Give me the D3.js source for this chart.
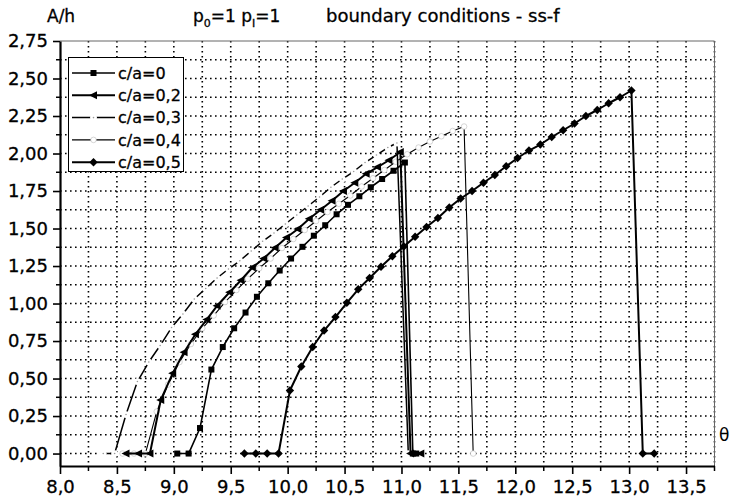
<!DOCTYPE html>
<html>
<head>
<meta charset="utf-8">
<script src="https://cdn.jsdelivr.net/npm/d3@7"></script>
<style>
  html, body { margin: 0; padding: 0; background: #fff; }
  svg { display: block; }
</style>
</head>
<body>
<div id="chart"></div>
<script>
// series names, legend order
const seriesNames = ["c/a=0", "c/a=0,2", "c/a=0,3", "c/a=0,4", "c/a=0,5"];

// c/a = 0 (squares)
const ca0X = [9.03, 9.13, 9.23, 9.33, 9.43, 9.53, 9.63, 9.73, 9.83, 9.93, 10.03, 10.13, 10.23, 10.33, 10.43, 10.53, 10.63, 10.73, 10.83, 10.93, 11.03, 11.10, 11.13];
const ca0Y = [0, 0, 0.17, 0.56, 0.71, 0.835, 0.94, 1.045, 1.135, 1.22, 1.30, 1.378, 1.452, 1.522, 1.595, 1.658, 1.715, 1.775, 1.83, 1.885, 1.94, 0, 0];

// c/a = 0,2 (triangles)
const ca2X = [8.58, 8.69, 8.79, 8.885, 8.99, 9.09, 9.19, 9.29, 9.38, 9.49, 9.59, 9.69, 9.79, 9.89, 9.99, 10.09, 10.19, 10.29, 10.39, 10.49, 10.59, 10.69, 10.79, 10.89, 10.99, 11.08, 11.17];
const ca2Y = [0, 0, 0, 0.357, 0.535, 0.675, 0.795, 0.894, 0.985, 1.075, 1.155, 1.24, 1.30, 1.372, 1.44, 1.497, 1.565, 1.625, 1.685, 1.75, 1.805, 1.865, 1.91, 1.955, 2.01, 0, 0];

// c/a = 0,3 (small open points)
const ca3X = [8.38, 8.48, 8.58, 8.68, 8.78, 8.88, 8.98, 9.08, 9.18, 9.28, 9.38, 9.48, 9.58, 9.68, 9.78, 9.88, 9.98, 10.08, 10.18, 10.28, 10.38, 10.48, 10.58, 10.68, 10.78, 10.88, 10.96, 11.06];
const ca3Y = [0, 0, 0.26, 0.48, 0.61, 0.72, 0.84, 0.93, 1.03, 1.10, 1.17, 1.23, 1.285, 1.35, 1.415, 1.47, 1.53, 1.59, 1.65, 1.71, 1.775, 1.83, 1.88, 1.94, 1.99, 2.04, 2.07, 0];

// c/a = 0,4 (open circles)
const ca4X = [8.55, 8.65, 8.75, 8.85, 8.95, 9.05, 9.15, 9.25, 9.35, 9.45, 9.55, 9.65, 9.75, 9.85, 9.95, 10.05, 10.15, 10.25, 10.35, 10.45, 10.55, 10.65, 10.75, 10.85, 10.95, 11.05, 11.15, 11.25, 11.35, 11.45, 11.55, 11.63];
const ca4Y = [0, 0, 0, 0.28, 0.46, 0.61, 0.73, 0.835, 0.92, 1.01, 1.09, 1.165, 1.235, 1.30, 1.37, 1.43, 1.49, 1.55, 1.61, 1.665, 1.72, 1.78, 1.835, 1.89, 1.945, 1.995, 2.04, 2.08, 2.115, 2.15, 2.18, 0];

// c/a = 0,5 (diamonds)
const ca5X = [9.62, 9.72, 9.82, 9.92, 10.02, 10.12, 10.22, 10.32, 10.42, 10.52, 10.62, 10.72, 10.82, 10.92, 11.02, 11.12, 11.22, 11.32, 11.42, 11.52, 11.62, 11.72, 11.82, 11.92, 12.02, 12.12, 12.22, 12.32, 12.42, 12.52, 12.62, 12.72, 12.82, 12.92, 13.02, 13.12, 13.22];
const ca5Y = [0, 0, 0, 0, 0.42, 0.58, 0.71, 0.82, 0.91, 1.005, 1.095, 1.17, 1.245, 1.315, 1.38, 1.445, 1.51, 1.57, 1.64, 1.70, 1.75, 1.805, 1.857, 1.915, 1.97, 2.02, 2.06, 2.11, 2.155, 2.20, 2.25, 2.29, 2.335, 2.375, 2.42, 0, 0];

// axis ticks
const xTicks = [8.0, 8.5, 9.0, 9.5, 10.0, 10.5, 11.0, 11.5, 12.0, 12.5, 13.0, 13.5];
const yTicks = [0, 0.25, 0.5, 0.75, 1.0, 1.25, 1.5, 1.75, 2.0, 2.25, 2.5, 2.75];

(function() {
  const width = 732, height = 500;
  const font = "'DejaVu Sans', Arial, sans-serif";

  const svg = d3.select("#chart").append("svg")
    .attr("width", width)
    .attr("height", height)
    .style("font-family", font);

  const x = d3.scaleLinear().domain([8.0, 13.75]).range([60, 714.5]);
  const y = d3.scaleLinear().domain([-0.083, 2.75]).range([466, 41]);

  const comma = f => (v => d3.format(f)(v).replace(".", ","));

  // dotted grid
  const grid = svg.append("g").attr("class", "grid")
    .attr("stroke", "#000")
    .attr("stroke-width", 1.6)
    .attr("stroke-dasharray", "1.6,3.4");

  grid.selectAll(".gx")
    .data(d3.range(8.25, 13.8, 0.25))
    .enter().append("line")
    .attr("x1", d => x(d)).attr("x2", d => x(d))
    .attr("y1", y(2.75)).attr("y2", y(-0.083));

  grid.selectAll(".gy")
    .data(d3.range(0, 2.7, 0.125))
    .enter().append("line")
    .attr("x1", x(8.0)).attr("x2", x(13.75))
    .attr("y1", d => y(d)).attr("y2", d => y(d));

  // thin frame top / right
  svg.append("path")
    .attr("d", `M${x(8.0)},${y(2.75)}H${x(13.75)}V${y(-0.083)}`)
    .attr("fill", "none")
    .attr("stroke", "#666")
    .attr("stroke-width", 1);

  const series = [
    { name: seriesNames[3], xs: ca4X, ys: ca4Y, width: 1.1, marker: "open4" },
    { name: seriesNames[2], xs: ca3X, ys: ca3Y, width: 1.5, marker: "open3" },
    { name: seriesNames[0], xs: ca0X, ys: ca0Y, width: 1.6, marker: "square" },
    { name: seriesNames[1], xs: ca2X, ys: ca2Y, width: 2, marker: "triangle" },
    { name: seriesNames[4], xs: ca5X, ys: ca5Y, width: 2, marker: "diamond" }
  ];

  function drawMarker(sel, type) {
    if (type === "square") {
      sel.append("rect")
        .attr("x", -3).attr("y", -3).attr("width", 6).attr("height", 6)
        .attr("fill", "#000");
    } else if (type === "triangle") {
      sel.append("path")
        .attr("d", "M-4.5,0L3.5,-4L3.5,4Z")
        .attr("fill", "#000");
    } else if (type === "diamond") {
      sel.append("path")
        .attr("d", "M0,-4.2L4.2,0L0,4.2L-4.2,0Z")
        .attr("fill", "#000");
    } else if (type === "open3") {
      sel.append("circle").attr("r", 3.4).attr("fill", "#fff");
      sel.append("circle").attr("r", 0.8).attr("fill", "#999");
    } else {
      sel.append("circle").attr("r", 2.8).attr("fill", "#fff")
        .attr("stroke", "#bbb").attr("stroke-width", 0.6);
    }
  }

  const line = d3.line()
    .x(d => x(d[0]))
    .y(d => y(d[1]));

  series.forEach(s => {
    const pts = s.xs.map((v, i) => [v, s.ys[i]]);
    const g = svg.append("g").attr("class", "series");
    g.append("path")
      .datum(pts)
      .attr("d", line)
      .attr("fill", "none")
      .attr("stroke", "#000")
      .attr("stroke-width", s.width)
      .attr("stroke-linejoin", "round");
    g.selectAll(".pt")
      .data(pts)
      .enter().append("g")
      .attr("class", "pt")
      .attr("transform", d => `translate(${x(d[0])},${y(d[1])})`)
      .each(function() { drawMarker(d3.select(this), s.marker); });
  });

  // axes
  const xAxis = svg.append("g")
    .attr("transform", `translate(0,${y(-0.083)})`)
    .call(d3.axisBottom(x).tickValues(xTicks).tickFormat(comma(".1f"))
      .tickSize(8).tickSizeOuter(0).tickPadding(6));

  xAxis.selectAll(".minor")
    .data(d3.range(8.25, 13.8, 0.5))
    .enter().append("line")
    .attr("x1", d => x(d)).attr("x2", d => x(d))
    .attr("y1", 0).attr("y2", 5)
    .attr("stroke", "#000").attr("stroke-width", 1.5);

  const yAxis = svg.append("g")
    .attr("transform", `translate(${x(8.0)},0)`)
    .call(d3.axisLeft(y).tickValues(yTicks).tickFormat(comma(".2f"))
      .tickSize(7).tickSizeOuter(0).tickPadding(5));

  yAxis.selectAll(".minor")
    .data(d3.range(0.125, 2.75, 0.25))
    .enter().append("line")
    .attr("x1", 0).attr("x2", -4)
    .attr("y1", d => y(d)).attr("y2", d => y(d))
    .attr("stroke", "#000").attr("stroke-width", 1.5);

  [xAxis, yAxis].forEach(a => {
    a.select(".domain").attr("stroke-width", 2.2);
    a.selectAll(".tick line").attr("stroke-width", 1.6);
    a.selectAll("text")
      .attr("font-family", font)
      .attr("font-size", "18px")
      .attr("fill", "#000")
      .attr("stroke", "#000")
      .attr("stroke-width", 0.3);
  });

  // titles
  const heavy = sel => sel.attr("stroke", "#000").attr("stroke-width", 0.3);

  svg.append("text")
    .attr("x", 47).attr("y", 22)
    .attr("font-size", "17px")
    .call(heavy)
    .text("A/h");

  const pt = svg.append("text")
    .attr("x", 193).attr("y", 22)
    .attr("font-size", "17px")
    .call(heavy);
  pt.append("tspan").text("p");
  pt.append("tspan").attr("font-size", "11px").attr("dy", 5).text("0");
  pt.append("tspan").attr("dy", -5).text("=1  p");
  pt.append("tspan").attr("font-size", "11px").attr("dy", 5).text("I");
  pt.append("tspan").attr("dy", -5).text("=1");

  svg.append("text")
    .attr("x", 326).attr("y", 22)
    .attr("font-size", "18px")
    .call(heavy)
    .text("boundary conditions - ss-f");

  svg.append("text")
    .attr("x", 719).attr("y", 441)
    .attr("font-size", "17px")
    .text("θ");

  // legend
  const legend = svg.append("g").attr("class", "legend");
  legend.append("rect")
    .attr("x", 68.5).attr("y", 57.5)
    .attr("width", 115).attr("height", 114)
    .attr("fill", "#fff")
    .attr("stroke", "#000")
    .attr("stroke-width", 1);

  const legendOrder = [2, 3, 1, 0, 4];
  legendOrder.forEach((si, i) => {
    const s = series[si];
    const ly = 73 + i * 22.3;
    legend.append("line")
      .attr("x1", 72).attr("x2", 115)
      .attr("y1", ly).attr("y2", ly)
      .attr("stroke", "#000")
      .attr("stroke-width", s.width);
    const m = legend.append("g").attr("transform", `translate(93.5,${ly})`);
    drawMarker(m, s.marker);
    legend.append("text")
      .attr("x", 118).attr("y", ly)
      .attr("dy", "0.36em")
      .attr("font-size", "16px")
      .call(heavy)
      .text(s.name);
  });
})();
</script>
</body>
</html>
